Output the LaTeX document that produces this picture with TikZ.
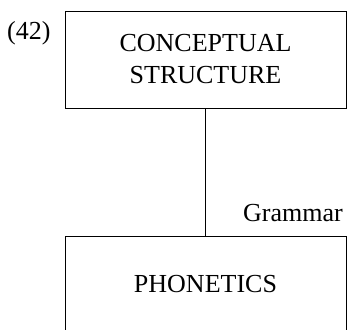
\documentclass[tikz,border=0pt]{standalone}
\usepackage{fontspec}
\setmainfont{Liberation Serif}
\begin{document}
\begin{tikzpicture}[x=1pt, y=1pt, every node/.style={font=\fontsize{26}{32}\selectfont},
  level/.style={draw, line width=0.8pt, minimum width=281pt, minimum height=97pt, align=center, inner sep=0pt}]
  \useasboundingbox (0,0) rectangle (347,329);
  \node[level] (cs) at (205.5,269.5) {CONCEPTUAL\\STRUCTURE};
  \node[level] (ph) at (205.5,44.5) {PHONETICS};
  \draw[line width=0.8pt] (cs) -- (ph);
  \node[anchor=base west, inner sep=0pt] (num) at (7,289) {(42)};
  \node[anchor=base east, inner sep=0pt] (gram) at (343,107) {Grammar};
\end{tikzpicture}
\end{document}
